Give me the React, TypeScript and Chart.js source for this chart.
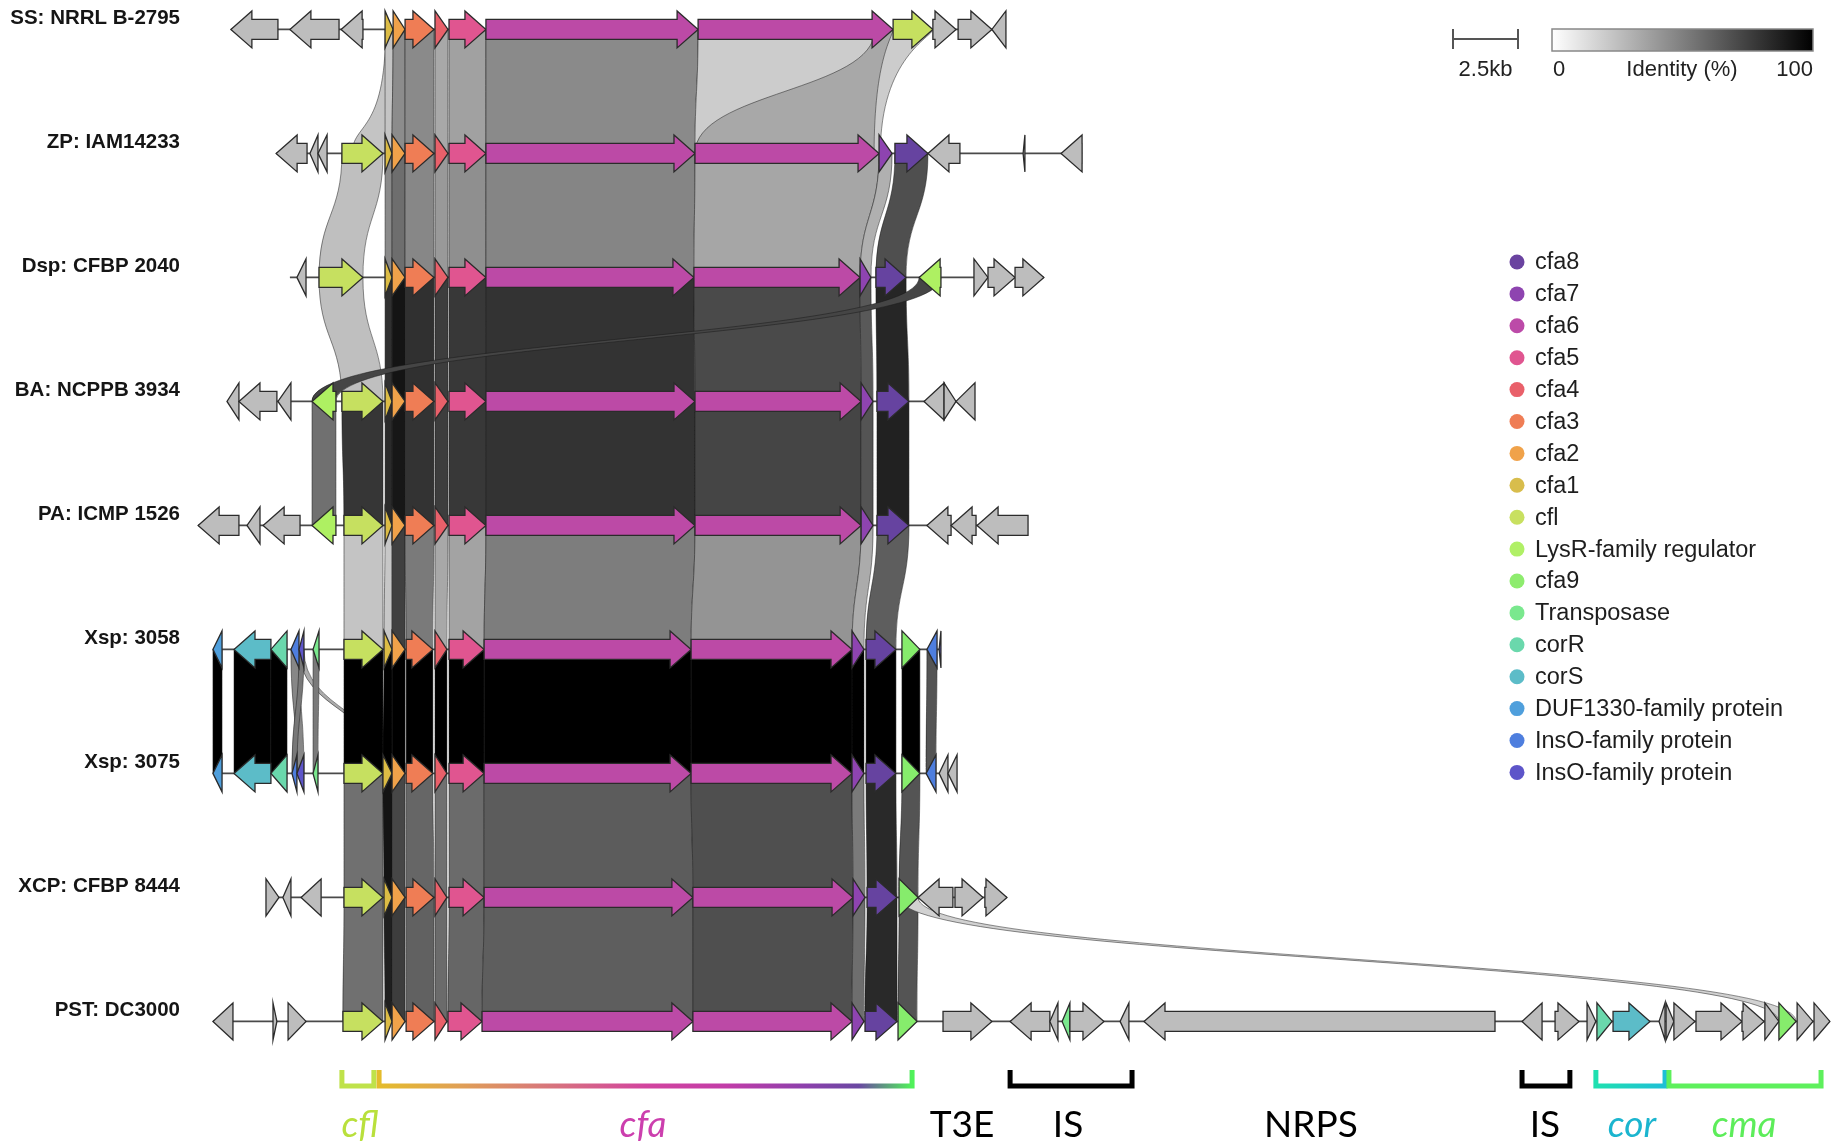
import React, { useEffect, useRef } from 'react';
import { Chart, registerables } from 'chart.js';

Chart.register(...registerables);

const W = 1843;
const H = 1148;

// ---------- tracks ----------
const trackNames = [
  'SS: NRRL B-2795',
  'ZP: IAM14233',
  'Dsp: CFBP 2040',
  'BA: NCPPB 3934',
  'PA: ICMP 1526',
  'Xsp: 3058',
  'Xsp: 3075',
  'XCP: CFBP 8444',
  'PST: DC3000',
];

// backbone extents (kb)
const trackExtents = [
  [8.88, 38.69],
  [10.62, 41.62],
  [11.15, 40.15],
  [8.73, 37.5],
  [7.62, 39.54],
  [8.19, 36.19],
  [8.19, 36.81],
  [10.23, 38.73],
  [8.19, 70.38],
];

// genes: [start kb, end kb, strand, category]
const ssGenes = [
  [8.88, 10.69, -1, 'g'], [11.15, 13.04, -1, 'g'], [13.12, 13.96, -1, 'g'],
  [14.81, 15.12, 1, 'cfa1'], [15.12, 15.58, 1, 'cfa2'], [15.58, 16.69, 1, 'cfa3'],
  [16.73, 17.23, 1, 'cfa4'], [17.27, 18.69, 1, 'cfa5'], [18.69, 26.85, 1, 'cfa6'],
  [26.85, 34.35, 1, 'cfa6'], [34.35, 35.88, 1, 'cfl'], [35.88, 36.77, 1, 'g'],
  [36.85, 38.15, 1, 'g'], [38.15, 38.69, -1, 'g'],
];
const zpGenes = [
  [10.62, 11.81, -1, 'g'], [11.92, 12.23, -1, 'g'], [12.23, 12.58, -1, 'g'],
  [13.15, 14.73, 1, 'cfl'], [14.81, 15.08, 1, 'cfa1'], [15.08, 15.58, 1, 'cfa2'],
  [15.58, 16.69, 1, 'cfa3'], [16.73, 17.23, 1, 'cfa4'], [17.27, 18.69, 1, 'cfa5'],
  [18.69, 26.73, 1, 'cfa6'], [26.73, 33.81, 1, 'cfa6'], [33.81, 34.31, 1, 'cfa7'],
  [34.42, 35.69, 1, 'cfa8'], [35.69, 36.92, -1, 'g'], [39.35, 39.42, -1, 'g'],
  [40.81, 41.62, -1, 'g'],
];
const dspGenes = [
  [11.42, 11.77, -1, 'g'], [12.27, 13.96, 1, 'cfl'], [14.81, 15.08, 1, 'cfa1'],
  [15.08, 15.58, 1, 'cfa2'], [15.58, 16.69, 1, 'cfa3'], [16.73, 17.23, 1, 'cfa4'],
  [17.27, 18.69, 1, 'cfa5'], [18.69, 26.69, 1, 'cfa6'], [26.69, 33.08, 1, 'cfa6'],
  [33.08, 33.5, 1, 'cfa7'], [33.69, 34.85, 1, 'cfa8'], [35.35, 36.19, -1, 'lysr'],
  [37.46, 38.0, 1, 'g'], [38.0, 39.04, 1, 'g'], [39.04, 40.15, 1, 'g'],
];
const baGenes = [
  [8.73, 9.19, -1, 'g'], [9.19, 10.65, -1, 'g'], [10.69, 11.19, -1, 'g'],
  [12.0, 12.92, -1, 'lysr'], [13.15, 14.73, 1, 'cfl'], [14.81, 15.08, 1, 'cfa1'],
  [15.08, 15.58, 1, 'cfa2'], [15.58, 16.69, 1, 'cfa3'], [16.73, 17.23, 1, 'cfa4'],
  [17.27, 18.69, 1, 'cfa5'], [18.69, 26.73, 1, 'cfa6'], [26.73, 33.12, 1, 'cfa6'],
  [33.12, 33.58, 1, 'cfa7'], [33.73, 34.96, 1, 'cfa8'], [35.54, 36.31, -1, 'g'],
  [36.31, 36.77, 1, 'g'], [36.77, 37.5, -1, 'g'],
];
const paGenes = [
  [7.62, 9.19, -1, 'g'], [9.5, 10.0, -1, 'g'], [10.12, 11.54, -1, 'g'],
  [12.0, 12.92, -1, 'lysr'], [13.23, 14.73, 1, 'cfl'], [14.81, 15.08, 1, 'cfa1'],
  [15.08, 15.58, 1, 'cfa2'], [15.58, 16.69, 1, 'cfa3'], [16.73, 17.23, 1, 'cfa4'],
  [17.27, 18.69, 1, 'cfa5'], [18.69, 26.73, 1, 'cfa6'], [26.73, 33.12, 1, 'cfa6'],
  [33.12, 33.58, 1, 'cfa7'], [33.73, 34.96, 1, 'cfa8'], [35.65, 36.58, -1, 'g'],
  [36.58, 37.54, -1, 'g'], [37.58, 39.54, -1, 'g'],
];
const xsp3058Genes = [
  [8.19, 8.54, -1, 'duf'], [9.0, 10.42, -1, 'corS'], [10.42, 11.04, -1, 'corR'],
  [11.19, 11.5, -1, 'ins1'], [11.5, 11.69, -1, 'ins2'], [12.04, 12.27, -1, 'tn'],
  [13.23, 14.73, 1, 'cfl'], [14.77, 15.08, 1, 'cfa1'], [15.08, 15.58, 1, 'cfa2'],
  [15.62, 16.65, 1, 'cfa3'], [16.73, 17.19, 1, 'cfa4'], [17.27, 18.62, 1, 'cfa5'],
  [18.62, 26.58, 1, 'cfa6'], [26.58, 32.77, 1, 'cfa6'], [32.77, 33.23, 1, 'cfa7'],
  [33.31, 34.46, 1, 'cfa8'], [34.69, 35.38, 1, 'cfa9'], [35.65, 36.04, -1, 'ins1'],
  [36.12, 36.19, -1, 'ins2'],
];
const xsp3075Genes = [
  [8.19, 8.54, -1, 'duf'], [9.0, 10.42, -1, 'corS'], [10.42, 11.04, -1, 'corR'],
  [11.23, 11.42, -1, 'ins1'], [11.42, 11.69, -1, 'ins2'], [12.04, 12.23, -1, 'tn'],
  [13.23, 14.73, 1, 'cfl'], [14.73, 15.08, 1, 'cfa1'], [15.08, 15.58, 1, 'cfa2'],
  [15.62, 16.65, 1, 'cfa3'], [16.73, 17.19, 1, 'cfa4'], [17.27, 18.62, 1, 'cfa5'],
  [18.62, 26.58, 1, 'cfa6'], [26.58, 32.77, 1, 'cfa6'], [32.77, 33.23, 1, 'cfa7'],
  [33.31, 34.46, 1, 'cfa8'], [34.69, 35.38, 1, 'cfa9'], [35.62, 36.0, -1, 'ins1'],
  [36.12, 36.46, -1, 'g'], [36.46, 36.81, -1, 'g'],
];
const xcpGenes = [
  [10.23, 10.73, 1, 'g'], [10.88, 11.19, -1, 'g'], [11.58, 12.35, -1, 'g'],
  [13.23, 14.73, 1, 'cfl'], [14.77, 15.08, 1, 'cfa1'], [15.08, 15.58, 1, 'cfa2'],
  [15.62, 16.69, 1, 'cfa3'], [16.73, 17.19, 1, 'cfa4'], [17.27, 18.62, 1, 'cfa5'],
  [18.62, 26.65, 1, 'cfa6'], [26.65, 32.81, 1, 'cfa6'], [32.81, 33.27, 1, 'cfa7'],
  [33.35, 34.5, 1, 'cfa8'], [34.58, 35.31, 1, 'cfa9'], [35.31, 36.65, -1, 'g'],
  [36.73, 37.81, 1, 'g'], [37.88, 38.73, 1, 'g'],
];
const pstGenes = [
  [8.19, 8.96, -1, 'g'], [10.5, 10.65, 1, 'g'], [11.08, 11.77, 1, 'g'],
  [13.19, 14.73, 1, 'cfl'], [14.81, 15.08, 1, 'cfa1'], [15.08, 15.58, 1, 'cfa2'],
  [15.62, 16.69, 1, 'cfa3'], [16.73, 17.19, 1, 'cfa4'], [17.23, 18.54, 1, 'cfa5'],
  [18.54, 26.65, 1, 'cfa6'], [26.65, 32.77, 1, 'cfa6'], [32.77, 33.23, 1, 'cfa7'],
  [33.27, 34.5, 1, 'cfa8'], [34.54, 35.27, 1, 'cfa9'], [36.27, 38.15, 1, 'g'],
  [38.85, 40.38, -1, 'g'], [40.38, 40.69, -1, 'g'], [40.85, 41.15, -1, 'tn'],
  [41.15, 42.46, 1, 'g'], [43.08, 43.42, -1, 'g'], [44.0, 57.5, -1, 'g'],
  [58.54, 59.31, -1, 'g'], [59.81, 60.73, 1, 'g'], [61.04, 61.38, 1, 'g'],
  [61.42, 62.0, 1, 'corR'], [62.04, 63.46, 1, 'corS'], [63.81, 64.04, -1, 'g'],
  [64.08, 64.38, 1, 'g'], [64.38, 65.19, 1, 'g'], [65.23, 67.0, 1, 'g'],
  [67.0, 67.85, 1, 'g'], [67.88, 68.42, 1, 'g'], [68.42, 69.08, 1, 'cfa9'],
  [69.12, 69.73, 1, 'g'], [69.77, 70.38, 1, 'g'],
];
const trackGenes = [ssGenes, zpGenes, dspGenes, baGenes, paGenes, xsp3058Genes, xsp3075Genes, xcpGenes, pstGenes];

// links between track p and p+1: [gene index on top, gene index below, identity %]
const linksSSZP = [[3, 4, 23], [4, 5, 45], [5, 6, 46], [6, 7, 34], [7, 8, 37], [8, 9, 46], [9, 10, 20]];
const linksZPDsp = [[3, 1, 25], [4, 2, 46], [5, 3, 57], [6, 4, 47], [7, 5, 40], [8, 6, 44], [9, 7, 48], [10, 8, 35], [11, 9, 31], [12, 10, 69]];
const linksDspBA = [[1, 4, 25], [2, 5, 81], [3, 6, 92], [4, 7, 81], [5, 8, 76], [6, 9, 78], [7, 10, 80], [8, 11, 71], [9, 12, 65], [10, 13, 85], [11, 3, 73]];
const linksBAPA = [[3, 3, 56], [4, 4, 79], [5, 5, 83], [6, 6, 91], [7, 7, 80], [8, 8, 76], [9, 9, 78], [10, 10, 80], [11, 11, 73], [12, 12, 67], [13, 13, 87]];
const linksPA3058 = [[4, 6, 23], [5, 7, 22], [6, 8, 75], [7, 9, 52], [8, 10, 34], [9, 11, 36], [10, 12, 51], [11, 13, 42], [12, 14, 33], [13, 15, 63]];
const links3058_3075 = [[0, 0, 100], [1, 1, 100], [2, 2, 100], [3, 4, 47], [4, 3, 53], [5, 5, 52], [6, 6, 100], [7, 7, 100], [8, 8, 100], [9, 9, 100], [10, 10, 100], [11, 11, 100], [12, 12, 100], [13, 13, 100], [14, 14, 100], [15, 15, 100], [16, 16, 100], [17, 17, 67]];
const links3075XCP = [[6, 3, 56], [7, 4, 92], [8, 5, 72], [9, 6, 60], [10, 7, 56], [11, 8, 58], [12, 9, 64], [13, 10, 69], [14, 11, 52], [15, 12, 84], [16, 13, 67]];
const linksXCPPST = [[3, 3, 56], [4, 4, 88], [5, 5, 76], [6, 6, 62], [7, 7, 58], [8, 8, 60], [9, 9, 63], [10, 10, 69], [11, 11, 57], [12, 12, 84], [13, 13, 67], [13, 32, 18]];
const pairLinks = [linksSSZP, linksZPDsp, linksDspBA, linksBAPA, linksPA3058, links3058_3075, links3075XCP, linksXCPPST];

// partial alignments: [pair, top start, top end, bottom start, bottom end, identity, bend1, bend2]
const extraLinksBefore = [
  [5, 11.5, 11.69, 14.8, 14.95, 33, 0.5, 0.5],
  [0, 14.83, 15.05, 13.55, 15.05, 23, 0.85, 0.75],
];
const extraLinksAfter = [
  [0, 33.65, 34.35, 26.73, 33.81, 34, 0.5, 0.5],
  [0, 34.35, 35.88, 33.62, 33.86, 20, 0.06, 0.22],
];

// ---------- legend ----------
const legendLabels = ['cfa8', 'cfa7', 'cfa6', 'cfa5', 'cfa4', 'cfa3', 'cfa2', 'cfa1', 'cfl', 'LysR-family regulator', 'cfa9', 'Transposase', 'corR', 'corS', 'DUF1330-family protein', 'InsO-family protein', 'InsO-family protein'];
const legendColors = ['#6a43a0', '#8e44b0', '#bc4aa8', '#e05590', '#e9606a', '#ef7d55', '#f0a24a', '#d8bd4c', '#c8e060', '#b0f066', '#8eec6e', '#7ae88e', '#6ad8ac', '#5cbcc8', '#4f9fdc', '#4e7ede', '#5d55c9'];

const geneColors: Record<string, string> = {
  g: '#bdbdbd', cfa1: '#dcbc45', cfa2: '#f0a24a', cfa3: '#ef7d55', cfa4: '#e9606a',
  cfa5: '#e05590', cfa6: '#bc4aa6', cfa7: '#8e44b0', cfa8: '#6643a0', cfl: '#c6e060',
  lysr: '#aef062', cfa9: '#86ec6c', tn: '#7ae88e', corR: '#6ad8ac', corS: '#5cbcc8',
  duf: '#4f9fdc', ins1: '#4e7ede', ins2: '#5d55c9',
};

// ---------- bottom annotations ----------
const bracketStarts = [13.15, 14.58, 38.85, 58.54, 61.38, 64.19];
const bracketEnds = [14.38, 35.08, 43.54, 60.38, 64.04, 70.04];
const bracketKinds = ['cfl', 'cfa', 'is', 'is', 'cor', 'cma'];
const regionLabels = ['cfl', 'cfa', 'T3E', 'IS', 'NRPS', 'IS', 'cor', 'cma'];
const regionCenters = [13.85, 24.73, 37.0, 41.08, 50.42, 59.42, 62.77, 67.08];
const regionItalic = [true, true, false, false, false, false, true, true];
const regionColors = ['#b9e03c', '#cc3fae', '#000000', '#000000', '#000000', '#000000', '#1bb5cf', '#5ded5a'];

const scaleBarKb = 2.5;

// ---------- drawing helpers ----------
const BODY_H = 20;
const HEAD_H = 37;
const HEAD_L = 21;

function gray(id: number) {
  const g = Math.round(255 * (1 - id / 100));
  return `rgb(${g},${g},${g})`;
}

function drawLink(ctx: CanvasRenderingContext2D, a1: number, a2: number, y1: number, b1: number, b2: number, y2: number, id: number, k1 = 0.5, k2 = 0.5) {
  const c1 = y1 + (y2 - y1) * k1;
  const c2 = y1 + (y2 - y1) * k2;
  ctx.beginPath();
  ctx.moveTo(a1, y1);
  ctx.lineTo(a2, y1);
  ctx.bezierCurveTo(a2, c1, b2, c2, b2, y2);
  ctx.lineTo(b1, y2);
  ctx.bezierCurveTo(b1, c2, a1, c1, a1, y1);
  ctx.closePath();
  ctx.fillStyle = gray(id);
  ctx.fill();
  ctx.strokeStyle = 'rgba(25,25,25,0.55)';
  ctx.lineWidth = 0.9;
  ctx.stroke();
}

function drawGene(ctx: CanvasRenderingContext2D, x1: number, x2: number, y: number, strand: number, color: string) {
  const len = x2 - x1;
  const head = Math.min(HEAD_L, len);
  const bh = BODY_H / 2;
  const hh = HEAD_H / 2;
  ctx.beginPath();
  if (strand > 0) {
    const hb = x2 - head;
    ctx.moveTo(x1, y - bh);
    ctx.lineTo(hb, y - bh);
    ctx.lineTo(hb, y - hh);
    ctx.lineTo(x2, y);
    ctx.lineTo(hb, y + hh);
    ctx.lineTo(hb, y + bh);
    ctx.lineTo(x1, y + bh);
  } else {
    const hb = x1 + head;
    ctx.moveTo(x2, y - bh);
    ctx.lineTo(hb, y - bh);
    ctx.lineTo(hb, y - hh);
    ctx.lineTo(x1, y);
    ctx.lineTo(hb, y + hh);
    ctx.lineTo(hb, y + bh);
    ctx.lineTo(x2, y + bh);
  }
  ctx.closePath();
  ctx.fillStyle = color;
  ctx.fill();
  ctx.strokeStyle = '#2b2b2b';
  ctx.lineWidth = 1.3;
  ctx.lineJoin = 'miter';
  ctx.stroke();
}

const clusterPlugin = {
  id: 'clusterPlugin',
  beforeDatasetsDraw(chart: any) {
    const ctx: CanvasRenderingContext2D = chart.ctx;
    const xs = chart.scales.x;
    const ys = chart.scales.y;
    const px = (v: number) => xs.getPixelForValue(v);
    const py = (v: number) => ys.getPixelForValue(v);
    ctx.save();

    const extra = (list: number[][]) => {
      list.forEach(([p, s1, e1, s2, e2, id, k1, k2]) => {
        drawLink(ctx, px(s1), px(e1), py(p), px(s2), px(e2), py(p + 1), id, k1, k2);
      });
    };
    // links
    extra(extraLinksBefore);
    pairLinks.forEach((set, p) => {
      const top = trackGenes[p];
      const bot = trackGenes[p + 1];
      set.forEach(([i, j, id]) => {
        const a = top[i] as any[];
        const b = bot[j] as any[];
        drawLink(ctx, px(a[0]), px(a[1]), py(p), px(b[0]), px(b[1]), py(p + 1), id);
      });
    });
    extra(extraLinksAfter);

    // backbones
    trackExtents.forEach(([s, e], t) => {
      ctx.beginPath();
      ctx.moveTo(px(s), py(t));
      ctx.lineTo(px(e), py(t));
      ctx.strokeStyle = '#4a4a4a';
      ctx.lineWidth = 1.6;
      ctx.stroke();
    });

    // genes
    trackGenes.forEach((genes, t) => {
      genes.forEach((gn: any[]) => {
        drawGene(ctx, px(gn[0]), px(gn[1]), py(t), gn[2], geneColors[gn[3]]);
      });
    });

    // track labels
    ctx.fillStyle = '#151515';
    ctx.font = 'bold 20.5px "Liberation Sans", Arial, sans-serif';
    ctx.textAlign = 'right';
    ctx.textBaseline = 'middle';
    trackNames.forEach((n, t) => {
      ctx.fillText(n, 180, py(t) - 11);
    });
    ctx.restore();
  },
  afterDraw(chart: any) {
    const ctx: CanvasRenderingContext2D = chart.ctx;
    const xs = chart.scales.x;
    const px = (v: number) => xs.getPixelForValue(v);
    ctx.save();

    // scale bar
    const sbL = 1453;
    const sbR = sbL + (px(scaleBarKb) - px(0));
    ctx.strokeStyle = '#555';
    ctx.lineWidth = 2;
    ctx.beginPath();
    ctx.moveTo(sbL, 39); ctx.lineTo(sbR, 39);
    ctx.moveTo(sbL, 29); ctx.lineTo(sbL, 49);
    ctx.moveTo(sbR, 29); ctx.lineTo(sbR, 49);
    ctx.stroke();
    ctx.fillStyle = '#222';
    ctx.font = '22px "Liberation Sans", Arial, sans-serif';
    ctx.textBaseline = 'middle';
    ctx.textAlign = 'center';
    ctx.fillText(`${scaleBarKb}kb`, (sbL + sbR) / 2, 70);

    // identity colour bar
    const cbL = 1552, cbR = 1813, cbT = 29, cbB = 51;
    const grad = ctx.createLinearGradient(cbL, 0, cbR, 0);
    grad.addColorStop(0, gray(0));
    grad.addColorStop(1, gray(100));
    ctx.fillStyle = grad;
    ctx.fillRect(cbL, cbT, cbR - cbL, cbB - cbT);
    ctx.strokeStyle = '#888';
    ctx.lineWidth = 1.5;
    ctx.strokeRect(cbL, cbT, cbR - cbL, cbB - cbT);
    ctx.fillStyle = '#222';
    ctx.textAlign = 'left';
    ctx.fillText('0', cbL + 1, 70);
    ctx.textAlign = 'center';
    ctx.fillText('Identity (%)', 1682, 70);
    ctx.textAlign = 'right';
    ctx.fillText('100', cbR, 70);

    // legend
    ctx.font = '23.5px "Liberation Sans", Arial, sans-serif';
    ctx.textAlign = 'left';
    legendLabels.forEach((lab, i) => {
      const y = 262 + i * 31.9;
      ctx.beginPath();
      ctx.arc(1517, y, 7.5, 0, Math.PI * 2);
      ctx.fillStyle = legendColors[i];
      ctx.fill();
      ctx.fillStyle = '#1e1e1e';
      ctx.fillText(lab, 1535, y + 1);
    });

    // brackets
    const bTop = 1070, bBot = 1086;
    bracketStarts.forEach((s, i) => {
      const x1 = px(s), x2 = px(bracketEnds[i]);
      const kind = bracketKinds[i];
      let stroke: any = '#000';
      if (kind === 'cfl') stroke = '#bfe24a';
      if (kind === 'cma') stroke = '#5ef05c';
      if (kind === 'cor') {
        const g = ctx.createLinearGradient(x1, 0, x2, 0);
        g.addColorStop(0, '#1fe0b0');
        g.addColorStop(1, '#1fbfd6');
        stroke = g;
      }
      if (kind === 'cfa') {
        const g = ctx.createLinearGradient(x1, 0, x2, 0);
        g.addColorStop(0, '#e4bc2c');
        g.addColorStop(0.15, '#e0a055');
        g.addColorStop(0.3, '#d87a78');
        g.addColorStop(0.5, '#d2449e');
        g.addColorStop(0.65, '#c23ca8');
        g.addColorStop(0.8, '#8c40ac');
        g.addColorStop(0.9, '#6a48a2');
        g.addColorStop(1, '#50f25a');
        stroke = g;
      }
      ctx.strokeStyle = stroke;
      ctx.lineWidth = 5;
      ctx.lineJoin = 'miter';
      ctx.beginPath();
      ctx.moveTo(x1, bTop);
      ctx.lineTo(x1, bBot);
      ctx.lineTo(x2, bBot);
      ctx.lineTo(x2, bTop);
      ctx.stroke();
    });

    // region labels
    ctx.textAlign = 'center';
    ctx.textBaseline = 'alphabetic';
    regionLabels.forEach((lab, i) => {
      ctx.font = `${regionItalic[i] ? 'italic ' : ''}37px Lato, "Open Sans", sans-serif`;
      ctx.fillStyle = regionColors[i];
      ctx.fillText(lab, px(regionCenters[i]), 1137);
    });
    ctx.restore();
  },
};

export default function App() {
  const ref = useRef<HTMLCanvasElement>(null);
  useEffect(() => {
    document.body.style.margin = '0';
    const canvas = ref.current!;
    const chart = new Chart(canvas, {
      type: 'scatter',
      data: { datasets: [] },
      options: {
        animation: false,
        responsive: false,
        maintainAspectRatio: false,
        devicePixelRatio: 1,
        layout: { padding: 0 },
        events: [],
        plugins: { legend: { display: false }, tooltip: { enabled: false }, title: { display: false } },
        scales: {
          x: { type: 'linear', min: 0, max: W / 26, display: false },
          y: { type: 'linear', min: -0.2371, max: -0.2371 + H / 124, reverse: true, display: false },
        },
      },
      plugins: [clusterPlugin],
    } as any);
    return () => chart.destroy();
  }, []);
  return (
    <div style={{ position: 'absolute', left: 0, top: 0, width: W, height: H, background: '#fff' }}>
      <canvas ref={ref} width={W} height={H} style={{ display: 'block', width: W, height: H }} />
    </div>
  );
}
